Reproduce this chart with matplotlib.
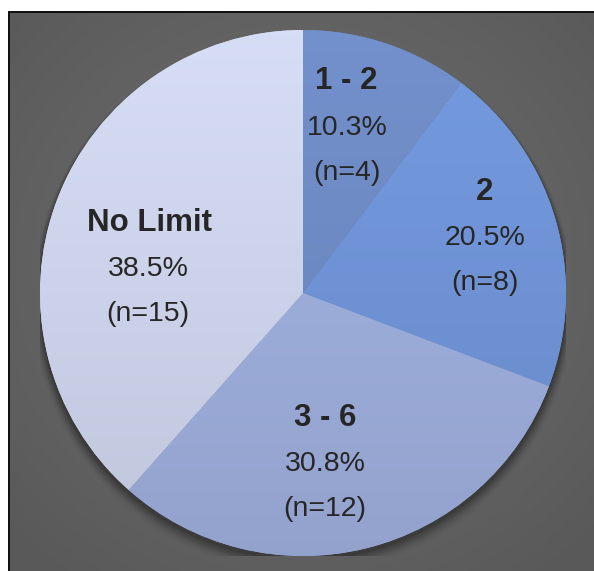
import numpy as np
import matplotlib
matplotlib.use("Agg")
import matplotlib.pyplot as plt
from matplotlib.colors import to_rgb

# ---- data ----
categories = ["1 - 2", "2", "3 - 6", "No Limit"]
percents = [10.3, 20.5, 30.8, 38.5]
counts = [4, 8, 12, 15]

colors = ["#6d89c2", "#6e92d4", "#9cacd9", "#cbd2e9"]

W, H = 594, 571
fig = plt.figure(figsize=(W / 100, H / 100), dpi=100)
fig.patch.set_facecolor("white")

# frame (black border at top/left)
bx0, by_top = 8, 11
frame = fig.add_axes([bx0 / W, 0, 1 - bx0 / W, 1 - by_top / H])
frame.set_facecolor("#111111")
frame.set_axis_off()
frame.add_patch(plt.Rectangle((0, 0), 1, 1, transform=frame.transAxes,
                              color="#111111", zorder=0))

# gradient background
gx0, gy_top = 10, 13
bg = fig.add_axes([gx0 / W, 0, 1 - gx0 / W, 1 - gy_top / H])
bg.set_axis_off()
ny, nx = 300, 300
yy, xx = np.mgrid[0:ny, 0:nx]
cx, cy = 0.5 * nx, 0.45 * ny
d = np.sqrt(((xx - cx) / nx) ** 2 + ((yy - cy) / ny) ** 2) / 0.7
d = np.clip(d, 0, 1)
val = 0.44 - 0.09 * d
img = np.dstack([val, val, val])
bg.imshow(img, extent=[0, 1, 0, 1], aspect="auto", origin="upper")
bg.set_xlim(0, 1)
bg.set_ylim(0, 1)

# pie axes
cxp, cyp, R = 303, 293, 263
ax = fig.add_axes([(cxp - R) / W, (H - cyp - R) / H, 2 * R / W, 2 * R / H])
ax.set_axis_off()
ax.set_xlim(-1, 1)
ax.set_ylim(-1, 1)

# soft shadow
for i, a in enumerate(np.linspace(0.12, 0.02, 6)):
    sh = plt.Circle((0.0, -0.012 - 0.004 * i), 1.0 + 0.005 * (i + 1),
                    color="black", alpha=a, lw=0, zorder=0)
    ax.add_patch(sh)

wedges, _ = ax.pie(percents, colors=colors, startangle=90, counterclock=False,
                   radius=1.0, wedgeprops=dict(linewidth=0, edgecolor="none"))

# subtle vertical shading inside each wedge
gy = np.linspace(1, -1, 200)[:, None] * np.ones((1, 200))
for w, c in zip(wedges, colors):
    w.set_zorder(1)
    base = np.array(to_rgb(c))
    fac = 1 + 0.055 * gy
    shade = np.clip(base[None, None, :] * fac[:, :, None], 0, 1)
    im = ax.imshow(shade, extent=[-1, 1, -1, 1], origin="upper", zorder=2,
                   interpolation="bilinear")
    im.set_clip_path(w)
ax.set_aspect("auto")
ax.set_xlim(-1, 1)
ax.set_ylim(-1, 1)

# label anchor positions (value line center), in pie-radius units
anchors = [(0.167, 0.627), (0.692, 0.209), (0.084, -0.65), (-0.59, 0.091)]
title_off = [(-0.004, 0.179), (0.0, 0.175), (0.0, 0.175), (0.008, 0.175)]
step = 0.172
txtc = "#262626"
for cat, p, n, (x, y), (tx, ty) in zip(categories, percents, counts, anchors, title_off):
    ax.text(x + tx, y + ty, cat, ha="center", va="center", fontsize=22.5,
            fontweight="bold", color=txtc, family="Liberation Sans", zorder=5)
    ax.text(x, y, f"{p:.1f}%", ha="center", va="center", fontsize=20.5,
            color=txtc, family="Liberation Sans", zorder=5)
    ax.text(x, y - step, f"(n={n})", ha="center", va="center", fontsize=20.5,
            color=txtc, family="Liberation Sans", zorder=5)

fig.savefig("out.png", dpi=100)
